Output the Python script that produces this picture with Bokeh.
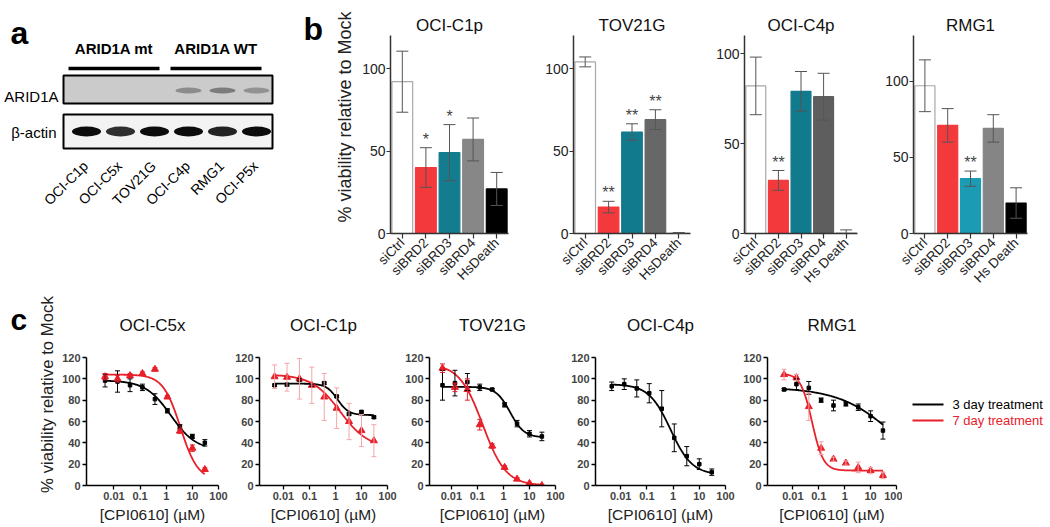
import math
import numpy as np
from bokeh.plotting import figure
from bokeh.models import (Range1d, FactorRange, ColumnDataSource, Whisker, TeeHead,
                          FixedTicker, PrintfTickFormatter)
from bokeh.layouts import row, column
from bokeh.embed import file_html
from bokeh.resources import INLINE
from bokeh.core.properties import value

FONT = "Liberation Sans"

# ---------------- panel a : western blot ----------------
blot_lanes = ["OCI-C1p", "OCI-C5x", "TOV21G", "OCI-C4p", "RMG1", "OCI-P5x"]
blot_groups = ["ARID1A mt", "ARID1A WT"]
blot_group_first = [0, 3]
blot_group_last = [2, 5]
blot_rows = ["ARID1A", "β-actin"]
arid1a_intensity = [0.0, 0.0, 0.0, 0.55, 0.7, 0.5]
actin_intensity = [1.0, 0.85, 1.0, 1.0, 0.9, 1.0]

# ---------------- panel b : siRNA bars ----------------
b_titles = ["OCI-C1p", "TOV21G", "OCI-C4p", "RMG1"]
b_cats_a = ["siCtrl", "siBRD2", "siBRD3", "siBRD4", "HsDeath"]
b_cats_b = ["siCtrl", "siBRD2", "siBRD3", "siBRD4", "Hs Death"]
b_ymax = [120, 120, 110, 130]

b_mean_c1p = [92, 40, 49, 57, 27]
b_err_c1p = [18.5, 12, 17, 13, 10]
b_star_c1p = ["", "*", "*", "", ""]
b_fill_c1p = ["#ffffff", "#f4393c", "#137c8f", "#878787", "#000000"]

b_mean_tov = [104, 16, 61.5, 69, 0.3]
b_err_tov = [3, 3.5, 5, 6, 0.3]
b_star_tov = ["", "**", "**", "**", ""]
b_fill_tov = ["#ffffff", "#f4393c", "#127a8d", "#676767", "#ffffff"]

b_mean_c4p = [82, 29.5, 79, 76, 0.5]
b_err_c4p = [16, 5.5, 11, 13, 1.5]
b_star_c4p = ["", "**", "", "", ""]
b_fill_c4p = ["#ffffff", "#f4393c", "#117a8d", "#5e5e5e", "#ffffff"]

b_mean_rmg = [97, 71, 36, 69, 20]
b_err_rmg = [17, 11, 5, 9, 10]
b_star_rmg = ["", "", "**", "", ""]
b_fill_rmg = ["#ffffff", "#f4393c", "#1b9cb4", "#858585", "#000000"]

# ---------------- panel c : dose response ----------------
c_titles = ["OCI-C5x", "OCI-C1p", "TOV21G", "OCI-C4p", "RMG1"]
c_conc = [0.00457, 0.0137, 0.0412, 0.123, 0.370, 1.11, 3.33, 10.0, 30.0]
c_xticks = [0.01, 0.1, 1, 10, 100]
c_yticks = [0, 20, 40, 60, 80, 100, 120]
legend_labels = ["3 day treatment", "7 day treatment"]
legend_colors = ["#000000", "#e8202a"]

d3_c5x = [98.4, 97.5, 94, 92, 81, 70, 55, 46, 40]
e3_c5x = [6, 10, 6, 3, 5, 2, 2, 2, 3]
d7_c5x = [102, 100, 103, 105, 109, 83, 51, 35, 15]
e7_c5x = [3, 3, 2, 1.5, 1.5, 1.5, 2, 3, 1.5]

d3_c1p = [94, 94.5, 99, 94, 96, 83.5, 67, 69, 64]
e3_c1p = [1, 1, 1, 1, 1, 1, 1, 1, 1]
d7_c1p = [102, 101.5, 100, 94, 83, 72.5, 60, 51.5, 42]
e7_c1p = [11, 13, 19, 17, 22, 19, 17, 15, 15]

d3_tov = [94, 96, 97, 92, 90, 75.6, 58, 48.5, 46]
e3_tov = [14, 12, 8, 3, 1, 2, 3, 3, 4]
d7_tov = [110, 92, 90, 57, 37, 17, 6, 2, 0]
e7_tov = [4, 4, 10, 5, 2, 1.5, 1.5, 1, 1]

d3_c4p = [93, 95, 91, 86.5, 72, 44.7, 27.5, 20, 12.5]
e3_c4p = [4, 5, 8, 9, 17, 13, 9, 5, 3]

d3_rmg = [90, 95, 91.5, 80, 75, 76.5, 73.4, 65, 51.5]
e3_rmg = [1, 5, 6, 2, 5, 2, 3, 5, 8]
d7_rmg = [104, 101, 74, 35, 24.7, 21, 17, 14, 9.4]
e7_rmg = [5, 3, 13, 6, 2, 2, 5, 3, 3]

# fitted 4-parameter logistic curves (top, bottom, IC50, Hill)
fit3_c5x = (98.5, 33, 1.5, 0.9)
fit7_c5x = (104, 5, 3.5, 1.3)
fit3_c1p = (95.5, 66, 1.2, 2.0)
fit7_c1p = (104, 35, 1.5, 0.8)
fit3_tov = (92.5, 45, 1.8, 1.6)
fit7_tov = (114, 0, 0.16, 0.97)
fit3_c4p = (95, 10, 0.8, 1.05)
fit3_rmg = (92, 0, 100, 0.4)
fit7_rmg = (105, 14, 0.055, 2.0)

# ---------------- layout constants (pixels, measured from each row's top) ----------------
TOP_H, TOP_FTOP, TOP_FRAME, TOP_AXIS_Y, TOP_TITLE_Y = 293, 0, 233, 35, 25
BOT_H, BOT_FTOP, BOT_FRAME, BOT_AXIS_Y, BOT_TITLE_Y = 234, 10, 192, 64, 32


def four_pl(x, params):
    top, bottom, ic50, hill = params
    return bottom + (top - bottom) / (1.0 + (x / ic50) ** hill)


def base_fig(**kw):
    p = figure(output_backend="svg", toolbar_location=None, title=None, **kw)
    p.outline_line_color = None
    p.grid.visible = False
    p.background_fill_color = "white"
    p.border_fill_color = "white"
    return p


def blank_fig(w, h, ftop, fbot, xr):
    p = figure(output_backend="svg", toolbar_location=None, title=None, width=w, height=h,
               x_range=xr, y_range=Range1d(fbot, ftop), x_axis_location=None, y_axis_location=None,
               min_border_left=0, min_border_right=0, min_border_top=ftop, min_border_bottom=h - fbot)
    p.outline_line_color = None
    p.grid.visible = False
    p.background_fill_color = "white"
    p.border_fill_color = "white"
    return p


# ---------------- panel a figure ----------------
LANE0, LANE_STEP = 86, 34
pa = blank_fig(330, TOP_H, TOP_FTOP, TOP_FRAME, Range1d(0, 330))
lane_x = [LANE0 + i * LANE_STEP for i in range(len(blot_lanes))]

pa.text(x=[10, 303], y=[32, 28], text=["a", "b"], text_font=value(FONT), text_font_style="bold",
        text_font_size="32px", text_baseline="alphabetic", text_color="black")

gx0 = [lane_x[i] - 18 for i in blot_group_first]
gx1 = [lane_x[i] + 5 for i in blot_group_last]
pa.segment(x0=gx0, y0=[68, 68], x1=gx1, y1=[68, 68], line_width=3.5, line_color="black")
pa.text(x=[(a + b) / 2 for a, b in zip(gx0, gx1)], y=[48, 48], text=blot_groups, text_font=value(FONT),
        text_font_style="bold", text_font_size="15px", text_align="center", text_baseline="middle")

pa.rect(x=[167.5, 167.5], y=[89, 131], width=[209, 209], height=[28, 34],
        fill_color=["#cbcbcb", "#f3f3f3"], line_color="black", line_width=2)
pa.text(x=[58, 56], y=[96, 132], text=blot_rows, text_font=value(FONT), text_font_size="15px",
        text_align="right", text_baseline="middle")
pa.ellipse(x=lane_x, y=[90] * 6, width=26, height=6, fill_color="#5a5a5a",
           fill_alpha=arid1a_intensity, line_color=None)
pa.ellipse(x=lane_x, y=[131] * 6, width=29, height=10, fill_color="#0c0c0c",
           fill_alpha=actin_intensity, line_color=None)
pa.text(x=[x - 1 for x in lane_x], y=[163] * 6, text=blot_lanes, angle=math.pi / 4,
        text_font=value(FONT), text_font_size="14px", text_align="right", text_baseline="middle")

# ---------------- panel b figures ----------------
b_sets = [
    (b_titles[0], b_cats_a, b_mean_c1p, b_err_c1p, b_star_c1p, b_fill_c1p, b_ymax[0], 193, 60, 15, True),
    (b_titles[1], b_cats_a, b_mean_tov, b_err_tov, b_star_tov, b_fill_tov, b_ymax[1], 177, 50, 10, False),
    (b_titles[2], b_cats_b, b_mean_c4p, b_err_c4p, b_star_c4p, b_fill_c4p, b_ymax[2], 167, 44, 10, False),
    (b_titles[3], b_cats_b, b_mean_rmg, b_err_rmg, b_star_rmg, b_fill_rmg, b_ymax[3], 183, 46, 23, False),
]
b_figs = []
for title, cats, means, errs, stars, fills, ymax, w, left, right, ylab in b_sets:
    axis_px = TOP_FRAME - TOP_AXIS_Y
    ytop = ymax * (TOP_FRAME - TOP_FTOP) / axis_px
    p = base_fig(width=w, height=TOP_H, x_range=FactorRange(*cats), y_range=Range1d(0, ytop),
                 min_border_left=left, min_border_right=right, min_border_top=TOP_FTOP,
                 min_border_bottom=TOP_H - TOP_FRAME)
    lines = []
    for i, f in enumerate(fills):
        if f == "#ffffff":
            lines.append("#a8a8a8" if i == 0 else "#d0d0d0")
        else:
            lines.append(f)
    src = ColumnDataSource(dict(cat=cats, mean=means,
                                upper=[m + e for m, e in zip(means, errs)],
                                lower=[m - e for m, e in zip(means, errs)],
                                star=stars, fill=fills, line=lines))
    p.vbar(x="cat", top="mean", width=0.88, fill_color="fill", line_color="line", line_width=1.2, source=src)
    wk = Whisker(base="cat", upper="upper", lower="lower", source=src, line_color="#555555", line_width=1,
                 upper_head=TeeHead(size=12, line_color="#555555", line_width=1),
                 lower_head=TeeHead(size=12, line_color="#555555", line_width=1), level="annotation")
    p.add_layout(wk)
    p.text(x="cat", y="upper", text="star", source=src, text_font=value(FONT), text_font_size="16px",
           text_align="center", text_baseline="bottom", text_color="#444444")
    p.text(x=[cats[2]], y=[ymax * (TOP_FRAME - TOP_TITLE_Y) / axis_px], text=[title],
           text_font=value(FONT), text_font_size="17px", text_align="center", text_baseline="middle",
           text_color="#111111")
    p.yaxis.ticker = FixedTicker(ticks=[0, 50, 100])
    p.yaxis.bounds = (0, ymax)
    for ax in (p.xaxis[0], p.yaxis[0]):
        ax.axis_line_color = "#333333"
        ax.axis_line_width = 1.5
        ax.major_tick_line_color = "#333333"
        ax.major_tick_line_width = 1.2
        ax.major_tick_out = 4
        ax.major_tick_in = 0
        ax.minor_tick_line_color = None
        ax.major_label_text_font = FONT
        ax.major_label_text_color = "#222222"
    p.yaxis.major_label_text_font_size = "14px"
    p.yaxis.major_label_standoff = 1
    p.xaxis.major_label_text_font_size = "13.5px"
    p.xaxis.major_label_orientation = math.pi / 4
    p.xaxis.major_label_standoff = 2
    p.xaxis.major_tick_out = 5
    if ylab:
        p.yaxis.axis_label = "% viability relative to Mock"
        p.yaxis.axis_label_text_font = FONT
        p.yaxis.axis_label_text_font_size = "18px"
        p.yaxis.axis_label_text_font_style = "normal"
        p.yaxis.axis_label_text_color = "#222222"
        p.yaxis.axis_label_standoff = 4
    b_figs.append(p)

# ---------------- panel c figures ----------------
pc_label = blank_fig(30, BOT_H, BOT_FTOP, BOT_FRAME, Range1d(0, 30))
pc_label.text(x=[10], y=[26], text=["c"], text_font=value(FONT), text_font_style="bold",
              text_font_size="30px", text_baseline="alphabetic", text_color="black")

c_sets = [
    (c_titles[0], -3.05, 198, 56, 10, d3_c5x, e3_c5x, fit3_c5x, d7_c5x, e7_c5x, fit7_c5x, "#e8202a", True),
    (c_titles[1], -2.92, 169, 31, 10, d3_c1p, e3_c1p, fit3_c1p, d7_c1p, e7_c1p, fit7_c1p, "#f4a6aa", False),
    (c_titles[2], -2.84, 168, 32, 10, d3_tov, e3_tov, fit3_tov, d7_tov, e7_tov, fit7_tov, "#e8202a", False),
    (c_titles[3], -2.96, 172, 30, 12, d3_c4p, e3_c4p, fit3_c4p, None, None, None, None, False),
    (c_titles[4], -2.98, 165, 30, 6, d3_rmg, e3_rmg, fit3_rmg, d7_rmg, e7_rmg, fit7_rmg, "#f2a0a4", False),
]
curve_x = np.logspace(np.log10(c_conc[0]), np.log10(c_conc[-1]), 160)
c_figs = []
for (title, lo, w, left, right, d3, e3, f3, d7, e7, f7, red_err, ylab) in c_sets:
    axis_px = BOT_FRAME - BOT_AXIS_Y
    ytop = 120 * (BOT_FRAME - BOT_FTOP) / axis_px
    p = base_fig(width=w, height=BOT_H, x_axis_type="log", x_range=Range1d(10 ** lo, 100),
                 y_range=Range1d(0, ytop), min_border_left=left, min_border_right=right,
                 min_border_top=BOT_FTOP, min_border_bottom=BOT_H - BOT_FRAME)
    series = [(d3, e3, f3, legend_colors[0], "#000000", "square", 3.5)]
    if d7 is not None:
        series.append((d7, e7, f7, legend_colors[1], red_err, "triangle", 7))
    for d, e, f, col, ecol, mk, sz in series:
        src = ColumnDataSource(dict(x=c_conc, y=d, up=[a + b for a, b in zip(d, e)],
                                    lo=[a - b for a, b in zip(d, e)]))
        p.add_layout(Whisker(base="x", upper="up", lower="lo", source=src, line_color=ecol, line_width=1,
                             upper_head=TeeHead(size=5, line_color=ecol, line_width=1),
                             lower_head=TeeHead(size=5, line_color=ecol, line_width=1), level="glyph"))
        p.line(curve_x, four_pl(curve_x, f), line_color=col, line_width=1.8)
        p.scatter(x="x", y="y", source=src, marker=mk, size=sz, fill_color=col, line_color=col)
    p.text(x=[10 ** ((lo + 2) / 2)], y=[120 * (BOT_FRAME - BOT_TITLE_Y) / axis_px], text=[title],
           text_font=value(FONT), text_font_size="17px", text_align="center", text_baseline="middle",
           text_color="#111111")
    p.xaxis.ticker = FixedTicker(ticks=c_xticks)
    p.xaxis.formatter = PrintfTickFormatter(format="%g")
    p.yaxis.ticker = FixedTicker(ticks=c_yticks)
    p.yaxis.bounds = (0, 120)
    for ax in (p.xaxis[0], p.yaxis[0]):
        ax.axis_line_color = "black"
        ax.axis_line_width = 1.5
        ax.major_tick_line_color = "black"
        ax.major_tick_line_width = 1.3
        ax.major_tick_out = 4
        ax.major_tick_in = 0
        ax.minor_tick_line_color = None
        ax.major_label_text_font = FONT
        ax.major_label_text_font_style = "bold"
        ax.major_label_text_font_size = "11px"
        ax.major_label_standoff = 2
    p.xaxis.axis_label = "[CPI0610] (µM)"
    p.xaxis.axis_label_text_font = FONT
    p.xaxis.axis_label_text_font_size = "15.5px"
    p.xaxis.axis_label_text_font_style = "normal"
    p.xaxis.axis_label_text_color = "#222222"
    p.xaxis.axis_label_standoff = 3
    if ylab:
        p.yaxis.axis_label = "% viability relative to Mock"
        p.yaxis.axis_label_text_font = FONT
        p.yaxis.axis_label_text_font_size = "16.8px"
        p.yaxis.axis_label_text_font_style = "normal"
        p.yaxis.axis_label_text_color = "#222222"
        p.yaxis.axis_label_standoff = 2
    c_figs.append(p)

# legend figure
pl = blank_fig(148, BOT_H, BOT_FTOP, BOT_FRAME, Range1d(0, 148))
leg_y = [111 + 16 * i for i in range(len(legend_labels))]
pl.segment(x0=[10] * len(leg_y), x1=[41] * len(leg_y), y0=leg_y, y1=leg_y, line_color=legend_colors,
           line_width=1.8)
pl.text(x=[50] * len(leg_y), y=leg_y, text=legend_labels, text_color=legend_colors, text_font=value(FONT),
        text_font_size="13px", text_baseline="middle")

layout = column(row(pa, *b_figs, spacing=0), row(pc_label, *c_figs, pl, spacing=0), spacing=0)
open("out.html", "w").write(file_html(layout, INLINE))
